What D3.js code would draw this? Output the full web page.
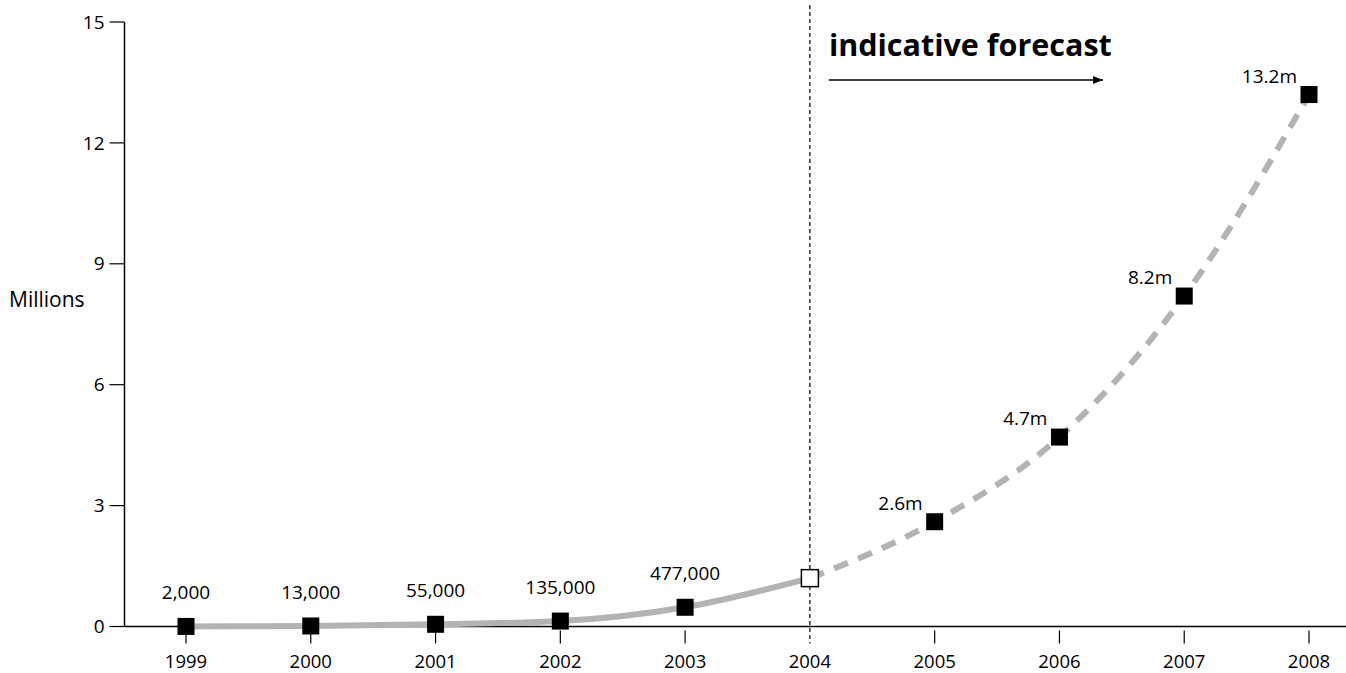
<!DOCTYPE html>
<html>
<head>
<meta charset="utf-8">
<script src="https://cdn.jsdelivr.net/npm/d3@7"></script>
<style>
  html, body { margin: 0; padding: 0; background: #fff; }
  svg { display: block; font-family: "Open Sans", "Noto Sans", sans-serif; }
</style>
</head>
<body>
<svg id="chart" width="1346" height="673"></svg>
<script>
// Subscribers per year, in millions (2004 onward is forecast)
const years = [1999, 2000, 2001, 2002, 2003, 2004, 2005, 2006, 2007, 2008];
const values = [0.002, 0.013, 0.055, 0.135, 0.477, 1.2, 2.6, 4.7, 8.2, 13.2];
const valueLabels = ["2,000", "13,000", "55,000", "135,000", "477,000", "", "2.6m", "4.7m", "8.2m", "13.2m"];
const yTicks = [0, 3, 6, 9, 12, 15];
const forecastStart = 2004;
const yAxisTitle = "Millions";
const forecastTitle = "indicative forecast";

const svg = d3.select("#chart");
const W = 1346, H = 673;
const plotLeft = 124.5, plotBottom = 626.5, plotTop = 22;

const x = d3.scaleLinear().domain([1999, 2008]).range([186, 1309]);
const y = d3.scaleLinear().domain([0, 15]).range([plotBottom, plotTop]);

const grey = "#b3b3b3";

// Axes
svg.append("line").attr("x1", plotLeft).attr("x2", plotLeft)
  .attr("y1", y(15)).attr("y2", plotBottom).attr("stroke", "#000").attr("stroke-width", 1.5);
svg.append("line").attr("x1", plotLeft).attr("x2", W)
  .attr("y1", plotBottom).attr("y2", plotBottom).attr("stroke", "#000").attr("stroke-width", 1.5);

const yAxis = svg.append("g");
yTicks.forEach(t => {
  yAxis.append("line").attr("x1", plotLeft - 15).attr("x2", plotLeft)
    .attr("y1", y(t)).attr("y2", y(t)).attr("stroke", "#000").attr("stroke-width", 1.2);
  yAxis.append("text").attr("x", plotLeft - 20).attr("y", y(t)).attr("dy", "0.35em")
    .attr("text-anchor", "end").attr("font-size", 19).text(t);
});

const xAxis = svg.append("g");
years.forEach(yr => {
  if (yr !== forecastStart) {
    xAxis.append("line").attr("x1", x(yr)).attr("x2", x(yr))
      .attr("y1", plotBottom + 4).attr("y2", plotBottom + 17).attr("stroke", "#000").attr("stroke-width", 1.2);
  }
  xAxis.append("text").attr("x", x(yr)).attr("y", 667.5)
    .attr("text-anchor", "middle").attr("font-size", 18.5).text(yr);
});

svg.append("text").attr("x", 9).attr("y", 307).attr("font-size", 21).text(yAxisTitle);

// Forecast divider
svg.append("line").attr("x1", x(forecastStart)).attr("x2", x(forecastStart))
  .attr("y1", 5).attr("y2", plotBottom + 17)
  .attr("stroke", "#000").attr("stroke-width", 1.2).attr("stroke-dasharray", "4,3");

svg.append("text").attr("x", x(forecastStart) + 19).attr("y", 56)
  .attr("font-size", 30.5).attr("font-weight", "bold").text(forecastTitle);

svg.append("defs").append("marker").attr("id", "arrow")
  .attr("viewBox", "0 0 10 10").attr("refX", 10).attr("refY", 5)
  .attr("markerWidth", 10).attr("markerHeight", 10).attr("markerUnits", "userSpaceOnUse")
  .attr("orient", "auto")
  .append("path").attr("d", "M0,1 L10,5 L0,9 Z").attr("fill", "#000");
svg.append("line").attr("x1", x(forecastStart) + 19).attr("x2", 1103)
  .attr("y1", 80).attr("y2", 80).attr("stroke", "#000").attr("stroke-width", 1.3)
  .attr("marker-end", "url(#arrow)");

// Lines
const data = years.map((yr, i) => ({ year: yr, value: values[i], label: valueLabels[i] }));
const line = d3.line().x(d => x(d.year)).y(d => y(d.value)).curve(d3.curveMonotoneX);
const actual = data.filter(d => d.year <= forecastStart);
const forecast = data.filter(d => d.year >= forecastStart);

svg.append("path").attr("d", line(actual)).attr("fill", "none")
  .attr("stroke", grey).attr("stroke-width", 6);
svg.append("path").attr("d", line(forecast)).attr("fill", "none")
  .attr("stroke", grey).attr("stroke-width", 6).attr("stroke-dasharray", "15,11");

// Markers
const s = 17;
svg.append("g").selectAll("rect").data(data).join("rect")
  .attr("x", d => x(d.year) - s / 2).attr("y", d => y(d.value) - s / 2)
  .attr("width", s).attr("height", s)
  .attr("fill", d => d.year === forecastStart ? "#fff" : "#000")
  .attr("stroke", "#000").attr("stroke-width", d => d.year === forecastStart ? 1.5 : 0);

// Value labels
svg.append("g").selectAll("text").data(data.filter(d => d.label)).join("text")
  .attr("font-size", 19)
  .attr("x", d => d.year < forecastStart ? x(d.year) : x(d.year) - 12)
  .attr("y", d => d.year < forecastStart ? y(d.value) - 27 : y(d.value) - 12)
  .attr("text-anchor", d => d.year < forecastStart ? "middle" : "end")
  .text(d => d.label);
</script>
</body>
</html>
